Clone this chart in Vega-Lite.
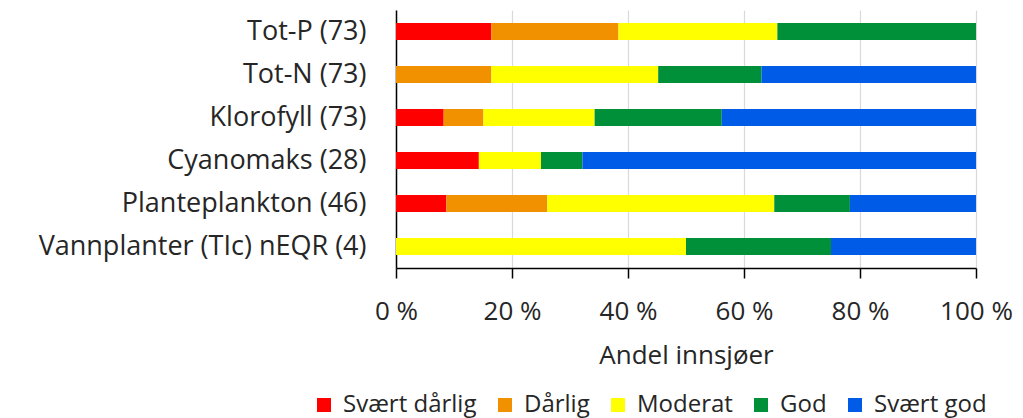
{
  "$schema": "https://vega.github.io/schema/vega-lite/v6.json",
  "width": 580,
  "height": 258,
  "autosize": {"type": "none"},
  "padding": {"left": 396, "top": 10, "right": 47, "bottom": 150},
  "background": "white",
  "config": {
    "font": "Open Sans",
    "view": {"stroke": null}
  },
  "data": {
    "values": [
      {"param": "Tot-P (73)", "klasse": "Svært dårlig", "k": 1, "n": 12},
      {"param": "Tot-P (73)", "klasse": "Dårlig", "k": 2, "n": 16},
      {"param": "Tot-P (73)", "klasse": "Moderat", "k": 3, "n": 20},
      {"param": "Tot-P (73)", "klasse": "God", "k": 4, "n": 25},
      {"param": "Tot-P (73)", "klasse": "Svært god", "k": 5, "n": 0},
      {"param": "Tot-N (73)", "klasse": "Svært dårlig", "k": 1, "n": 0},
      {"param": "Tot-N (73)", "klasse": "Dårlig", "k": 2, "n": 12},
      {"param": "Tot-N (73)", "klasse": "Moderat", "k": 3, "n": 21},
      {"param": "Tot-N (73)", "klasse": "God", "k": 4, "n": 13},
      {"param": "Tot-N (73)", "klasse": "Svært god", "k": 5, "n": 27},
      {"param": "Klorofyll (73)", "klasse": "Svært dårlig", "k": 1, "n": 6},
      {"param": "Klorofyll (73)", "klasse": "Dårlig", "k": 2, "n": 5},
      {"param": "Klorofyll (73)", "klasse": "Moderat", "k": 3, "n": 14},
      {"param": "Klorofyll (73)", "klasse": "God", "k": 4, "n": 16},
      {"param": "Klorofyll (73)", "klasse": "Svært god", "k": 5, "n": 32},
      {"param": "Cyanomaks (28)", "klasse": "Svært dårlig", "k": 1, "n": 4},
      {"param": "Cyanomaks (28)", "klasse": "Dårlig", "k": 2, "n": 0},
      {"param": "Cyanomaks (28)", "klasse": "Moderat", "k": 3, "n": 3},
      {"param": "Cyanomaks (28)", "klasse": "God", "k": 4, "n": 2},
      {"param": "Cyanomaks (28)", "klasse": "Svært god", "k": 5, "n": 19},
      {"param": "Planteplankton (46)", "klasse": "Svært dårlig", "k": 1, "n": 4},
      {"param": "Planteplankton (46)", "klasse": "Dårlig", "k": 2, "n": 8},
      {"param": "Planteplankton (46)", "klasse": "Moderat", "k": 3, "n": 18},
      {"param": "Planteplankton (46)", "klasse": "God", "k": 4, "n": 6},
      {"param": "Planteplankton (46)", "klasse": "Svært god", "k": 5, "n": 10},
      {"param": "Vannplanter (TIc) nEQR (4)", "klasse": "Svært dårlig", "k": 1, "n": 0},
      {"param": "Vannplanter (TIc) nEQR (4)", "klasse": "Dårlig", "k": 2, "n": 0},
      {"param": "Vannplanter (TIc) nEQR (4)", "klasse": "Moderat", "k": 3, "n": 2},
      {"param": "Vannplanter (TIc) nEQR (4)", "klasse": "God", "k": 4, "n": 1},
      {"param": "Vannplanter (TIc) nEQR (4)", "klasse": "Svært god", "k": 5, "n": 1}
    ]
  },
  "mark": {"type": "bar"},
  "encoding": {
    "y": {
      "field": "param",
      "type": "nominal",
      "sort": ["Tot-P (73)", "Tot-N (73)", "Klorofyll (73)", "Cyanomaks (28)", "Planteplankton (46)", "Vannplanter (TIc) nEQR (4)"],
      "scale": {"paddingInner": 0.6, "paddingOuter": 0.3},
      "axis": {
        "title": null,
        "ticks": false,
        "tickSize": 0,
        "labelPadding": 30,
        "labelFontSize": 27,
        "labelColor": "#262626",
        "labelLimit": 500,
        "domainColor": "#000000",
        "domainWidth": 1.5,
        "grid": false
      }
    },
    "x": {
      "field": "n",
      "type": "quantitative",
      "stack": "normalize",
      "scale": {"domain": [0, 1], "nice": false},
      "axis": {
        "title": "Andel innsjøer",
        "titleFontSize": 26,
        "titleFontWeight": "normal",
        "titleColor": "#262626",
        "titlePadding": 18,
        "values": [0, 0.2, 0.4, 0.6, 0.8, 1],
        "labelExpr": "round(datum.value * 100) + ' %'",
        "labelFontSize": 26,
        "labelColor": "#262626",
        "labelPadding": 20,
        "labelFlush": false,
        "tickSize": 10,
        "tickColor": "#000000",
        "tickWidth": 1.5,
        "domainColor": "#000000",
        "domainWidth": 1.5,
        "grid": true,
        "gridColor": "#d9d9d9",
        "gridWidth": 1.2
      }
    },
    "color": {
      "field": "klasse",
      "type": "nominal",
      "scale": {
        "domain": ["Svært dårlig", "Dårlig", "Moderat", "God", "Svært god"],
        "range": ["#ff0000", "#f29100", "#ffff00", "#00903a", "#005be6"]
      },
      "legend": {
        "title": null,
        "orient": "none",
        "direction": "horizontal",
        "legendX": -84,
        "legendY": 383,
        "symbolType": "square",
        "symbolSize": 196,
        "symbolStrokeWidth": 0,
        "labelFontSize": 24,
        "labelColor": "#262626",
        "labelOffset": 7,
        "columnPadding": 16,
        "labelLimit": 300
      }
    },
    "order": {"field": "k", "type": "quantitative"}
  }
}
